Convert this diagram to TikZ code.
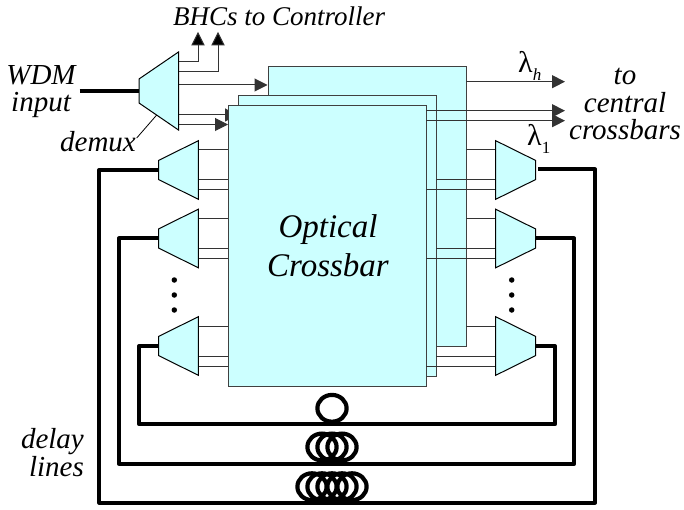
\documentclass[tikz,border=0pt]{standalone}
\usepackage{fontspec}
\setmainfont{Liberation Serif}
\usetikzlibrary{arrows.meta}
\definecolor{boxcyan}{HTML}{CCFFFF}
\tikzset{
  xbar/.style={draw=black!75,fill=boxcyan,line width=1pt},
  mux/.style={draw=black,fill=boxcyan,line width=1pt},
  wire/.style={draw=black!80,line width=1pt},
  fibre/.style={draw=black,line width=4pt,line join=round},
  coil/.style={draw=black,line width=4.2pt},
  head/.style={wire,-{Triangle[length=13pt,width=13pt]}},
  lbl/.style={font=\itshape\fontsize{29}{30}\selectfont,inner sep=0pt},
  lam/.style={font=\fontsize{30}{30}\selectfont,inner sep=0pt},
  dotmark/.style={circle,fill=black,inner sep=0pt,minimum size=5.5pt}
}
\newcommand{\leftmux}[2]{
  \path[mux] (158.5,#2-9.5) -- (198.3,#2-29.3) -- (198.3,#2+29.3) -- (158.5,#2+9.5) -- cycle;
  \coordinate (#1) at (158.5,#2);
}
\newcommand{\rightmux}[2]{
  \path[mux] (535.7,#2-9.5) -- (495.7,#2-29.3) -- (495.7,#2+29.3) -- (535.7,#2+9.5) -- cycle;
  \coordinate (#1) at (535.7,#2);
}
\begin{document}
\begin{tikzpicture}[x=1pt,y=-1pt]
  \useasboundingbox (0,0) rectangle (684,510);
  % wires behind the boxes
  \draw[head] (178.5,85) -- (267.5,85);
  \draw[head] (178.5,115) -- (238,115);
  \draw[head] (178.5,124.5) -- (228,124.5);
  % crossbars, back to front
  \node[xbar,anchor=north west,minimum width=198.5pt,minimum height=280pt,inner sep=0pt] (xbarc) at (267.5,66) {};
  \node[xbar,anchor=north west,minimum width=198pt,minimum height=280.7pt,inner sep=0pt] (xbarb) at (238,95) {};
  \node[xbar,anchor=north west,minimum width=198pt,minimum height=280.7pt,inner sep=0pt] (xbara) at (228,105) {};
  % demux at the input
  \path[mux] (139,79) -- (178.5,52) -- (178.5,130) -- (139,103) -- cycle;
  \coordinate (demuxin) at (139,91);
  \coordinate (wdmend) at (79.5,91);
  \draw[fibre] (wdmend) -- (demuxin);
  \draw[wire] (178.5,62) -- (198,62) -- (198,45);
  \draw[wire] (178.5,72) -- (218,72) -- (218,45);
  \draw[wire,fill=black] (198,33) -- (192,45) -- (204,45) -- cycle;
  \draw[wire,fill=black] (218,33) -- (212,45) -- (224,45) -- cycle;
  % outputs
  \draw[head] (466,81.7) -- (565,81.7);
  \draw[head] (426,110.7) -- (565,110.7);
  \draw[head] (426,120.7) -- (565,120.7);
  % port wires
  \foreach \y in {170,238.5,346}{
    \draw[wire] (198.3,\y-20) -- (228,\y-20);
    \draw[wire] (198.3,\y+10) -- (228,\y+10);
    \draw[wire] (198.3,\y+20) -- (228,\y+20);
    \draw[wire] (466,\y-20) -- (495.7,\y-20);
    \draw[wire] (436,\y+10) -- (495.7,\y+10);
    \draw[wire] (426,\y+20) -- (495.7,\y+20);
  }
  \leftmux{la}{170}
  \leftmux{lb}{238.5}
  \leftmux{lc}{346}
  \rightmux{ra}{170}
  \rightmux{rb}{238.5}
  \rightmux{rc}{346}
  % delay lines
  \draw[fibre] (lc) -- (139.3,346) -- (139.3,424.3) -- (555,424.3) -- (555,346) -- (rc);
  \draw[fibre] (lb) -- (119,238.5) -- (119,463.7) -- (574.3,463.7) -- (574.3,238.5) -- (rb);
  \draw[fibre] (la) -- (99.3,170) -- (99.3,502.7) -- (595,502.7) -- (595,169.5) -- (538,169.5);
  % coils
  \draw[coil] (332,408.3) ellipse (14.6 and 13.4);
  \foreach \x in {-10,0,10}
    \draw[coil] (332+\x,447) ellipse (14.6 and 13.4);
  \foreach \x in {-20,-10,0,10,20}
    \draw[coil] (332+\x,486.7) ellipse (14.6 and 13.4);
  % dots
  \foreach \x in {174.3,511.7}
    \foreach \y in {280,295,310}
      \node[dotmark] at (\x,\y) {};
  % labels
  \node[lbl,anchor=base west,font=\itshape\fontsize{27}{28}\selectfont] (bhc) at (173,25.7) {BHCs to Controller};
  \node[lbl,anchor=base] (wdm) at (41,85) {WDM};
  \node[lbl,anchor=base] (inp) at (41,111.7) {input};
  \node[lbl,anchor=base] (dmx) at (98,151.7) {demux};
  \coordinate (dmxtip) at (156.7,115);
  \coordinate (dmxfoot) at (136.7,138);
  \draw[draw=black,line width=.8pt] (dmxtip) -- (dmxfoot);
  \node[lbl,anchor=base] (to) at (625,85) {to};
  \node[lbl,anchor=base] (cen) at (625,112.7) {central};
  \node[lbl,anchor=base] (crs) at (625,140) {crossbars};
  \node[lbl,anchor=base east] (dly) at (84,448) {delay};
  \node[lbl,anchor=base east] (lns) at (84,476) {lines};
  \node[lbl,anchor=base,font=\itshape\fontsize{33}{34}\selectfont] (opt) at (328,237.7) {Optical};
  \node[lbl,anchor=base,font=\itshape\fontsize{33}{34}\selectfont] (cbr) at (328,276.7) {Crossbar};
  \node[lam,anchor=base west] (lamh) at (518,73) {λ\raisebox{-8pt}{\fontsize{17}{17}\selectfont\itshape h}};
  \node[lam,anchor=base west] (lamo) at (527,146) {λ\raisebox{-8pt}{\fontsize{17}{17}\selectfont 1}};
\end{tikzpicture}
\end{document}
